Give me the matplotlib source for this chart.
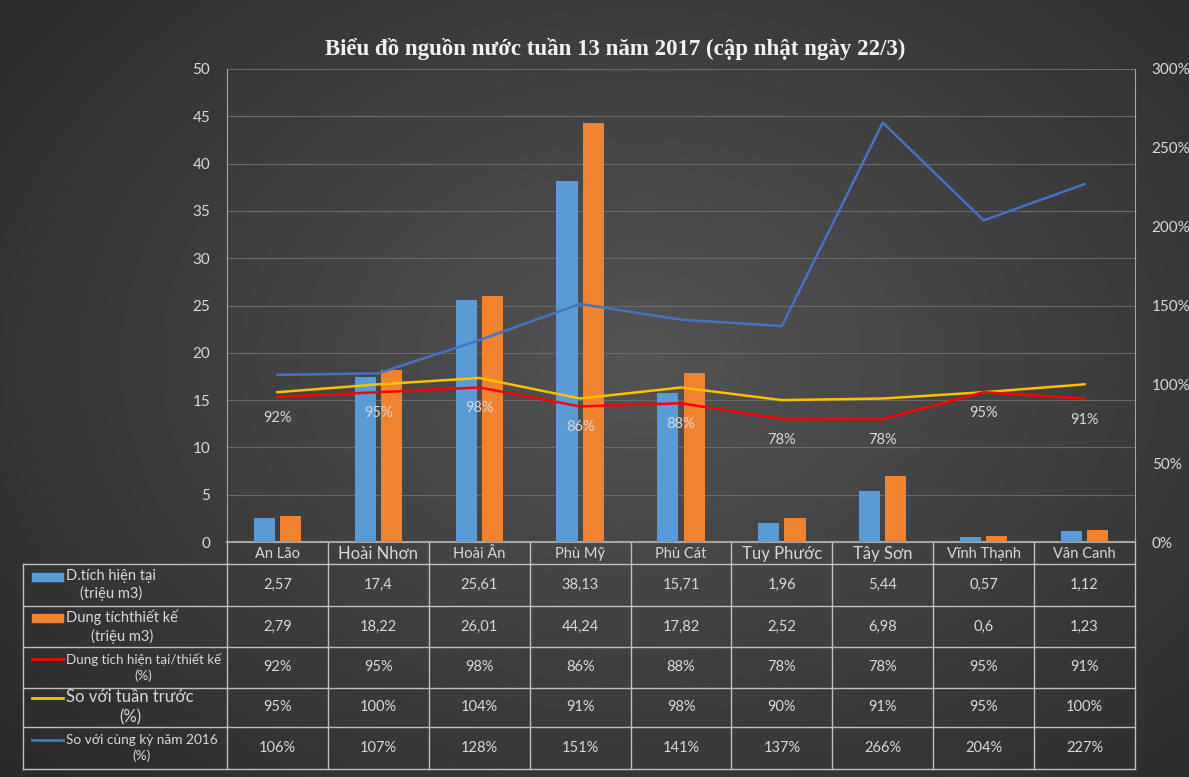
import numpy as np
import matplotlib.pyplot as plt
from matplotlib.patches import Rectangle

# data
districts = ['An Lão', 'Hoài Nhơn', 'Hoài Ân', 'Phù Mỹ', 'Phù Cát',
             'Tuy Phước', 'Tây Sơn', 'Vĩnh Thạnh', 'Vân Canh']
dt_hien_tai = [2.57, 17.4, 25.61, 38.13, 15.71, 1.96, 5.44, 0.57, 1.12]
dt_thiet_ke = [2.79, 18.22, 26.01, 44.24, 17.82, 2.52, 6.98, 0.6, 1.23]
ty_le = [92, 95, 98, 86, 88, 78, 78, 95, 91]
so_tuan_truoc = [95, 100, 104, 91, 98, 90, 91, 95, 100]
so_cung_ky = [106, 107, 128, 151, 141, 137, 266, 204, 227]

row_labels = ['D.tích hiện tại\n(triệu m3)',
              'Dung tíchthiết kế\n(triệu m3)',
              'Dung tích hiện tại/thiết kế\n(%)',
              'So với tuần trước\n(%)',
              'So với cùng kỳ năm 2016\n(%)']
title = 'Biểu đồ nguồn nước tuần 13 năm 2017 (cập nhật ngày 22/3)'

BLUE = '#5b9bd5'
ORANGE = '#f0832f'
RED = '#ff0000'
YELLOW = '#ffc000'
LBLUE = '#4472c4'
TXT = '#d9d9d9'
GRID = '#6b6b6b'
AXL = '#a6a6a6'

plt.rcParams['font.family'] = ['Lato', 'DejaVu Sans']

W, H = 1189, 777
fig = plt.figure(figsize=(W / 100, H / 100), dpi=100)

# background gradient
bg = fig.add_axes([0, 0, 1, 1])
yy, xx = np.mgrid[0:H, 0:W]
d = np.sqrt(((xx - 640) / 760.0) ** 2 + ((yy - 360) / 560.0) ** 2)
shade = 0.33 - 0.18 * np.clip(d, 0, 1.2) / 1.2
bg.imshow(np.dstack([shade, shade, shade]), extent=[0, W, H, 0], aspect='auto')
bg.set_xlim(0, W)
bg.set_ylim(H, 0)
bg.axis('off')

# main plot area (pixel layout)
L, R, T, B = 227, 1135, 69, 542
ax = fig.add_axes([L / W, (H - B) / H, (R - L) / W, (B - T) / H])
ax.patch.set_alpha(0)
x = np.arange(len(districts))
bw = 0.21
ax.bar(x - 0.13, dt_hien_tai, bw, color=BLUE, zorder=3)
ax.bar(x + 0.13, dt_thiet_ke, bw, color=ORANGE, zorder=3)
ax.set_xlim(-0.5, len(districts) - 0.5)
ax.set_ylim(0, 50)
ax.set_yticks(range(0, 51, 5))
ax.set_xticks([])
ax.grid(axis='y', color=GRID, lw=0.8, zorder=0)
ax.tick_params(axis='y', colors=TXT, labelsize=11, length=0, pad=12)
for s in ['top', 'right']:
    ax.spines[s].set_visible(False)
ax.spines['left'].set_color(AXL)
ax.spines['bottom'].set_color(AXL)
ax.spines['bottom'].set_linewidth(1.5)

ax2 = ax.twinx()
ax2.set_ylim(0, 300)
ax2.set_yticks(range(0, 301, 50))
ax2.set_yticklabels([f'{v}%' for v in range(0, 301, 50)])
ax2.tick_params(axis='y', colors=TXT, labelsize=11, length=0, pad=12)
for s in ['top', 'left', 'bottom']:
    ax2.spines[s].set_visible(False)
ax2.spines['right'].set_color(AXL)
ax2.plot(x, so_cung_ky, color=LBLUE, lw=1.8, zorder=4)
ax2.plot(x, so_tuan_truoc, color=YELLOW, lw=1.8, zorder=4)
ax2.plot(x, ty_le, color=RED, lw=1.8, zorder=4)
for xi, v in zip(x, ty_le):
    ax2.annotate(f'{v}%', (xi, v), xytext=(0, -21), textcoords='offset pixels',
                 ha='center', va='center', color=TXT, fontsize=10.5)

fig.text(615 / W, 1 - 49 / H, title, ha='center', va='center',
         family='Liberation Serif', fontweight='bold', fontsize=16.5, color='#f2f2f2')

# data table below the plot
tab = fig.add_axes([L / W, (H - 769) / H, (R - L) / W, (769 - B) / H])
tab.set_xlim(-0.5, len(districts) - 0.5)
tab.set_ylim(769, B)
tab.axis('off')
colw = (R - L) / len(districts)
x_left = -0.5 - (L - 23) / colw
rows_y = [564, 606, 647, 688, 727, 769]
lk = dict(color='#bfbfbf', lw=1, clip_on=False)
for yv in rows_y:
    tab.plot([x_left, 8.5], [yv, yv], **lk)
for i in range(len(districts) + 1):
    tab.plot([i - 0.5, i - 0.5], [B, 769], **lk)
tab.plot([x_left, x_left], [564, 769], **lk)

head_sizes = [10.5, 12, 10.5, 10.5, 10.5, 12, 12, 10.5, 10.5]
for i, name in enumerate(districts):
    tab.text(i, (B + 564) / 2 + 1, name, ha='center', va='center',
             color=TXT, fontsize=head_sizes[i], clip_on=False)

fmt = lambda v: f'{v:g}'.replace('.', ',')
rows = [[fmt(v) for v in dt_hien_tai], [fmt(v) for v in dt_thiet_ke],
        [f'{v}%' for v in ty_le], [f'{v}%' for v in so_tuan_truoc],
        [f'{v}%' for v in so_cung_ky]]
label_sizes = [10.5, 10.5, 9.6, 12, 9.8]
key_off = [8, 8, 8, 9, 8]
for r in range(5):
    yc = (rows_y[r] + rows_y[r + 1]) / 2
    for i, s in enumerate(rows[r]):
        tab.text(i, yc, s, ha='center', va='center', color=TXT, fontsize=10.5)
    tab.text(x_left + (66 - 23) / colw, yc, row_labels[r], ha='left', va='center',
             multialignment='center', color=TXT, fontsize=label_sizes[r],
             linespacing=1.3, clip_on=False)
    ky = yc - key_off[r]
    kx0 = x_left + (32 - 23) / colw
    kx1 = x_left + (63 - 23) / colw
    if r < 2:
        tab.add_patch(Rectangle((kx0, ky - 4), kx1 - kx0, 8,
                                color=[BLUE, ORANGE][r], clip_on=False))
    else:
        tab.plot([kx0, kx1], [ky, ky], color=[RED, YELLOW, LBLUE][r - 2],
                 lw=2, clip_on=False)

fig.savefig('out.png', dpi=100)
